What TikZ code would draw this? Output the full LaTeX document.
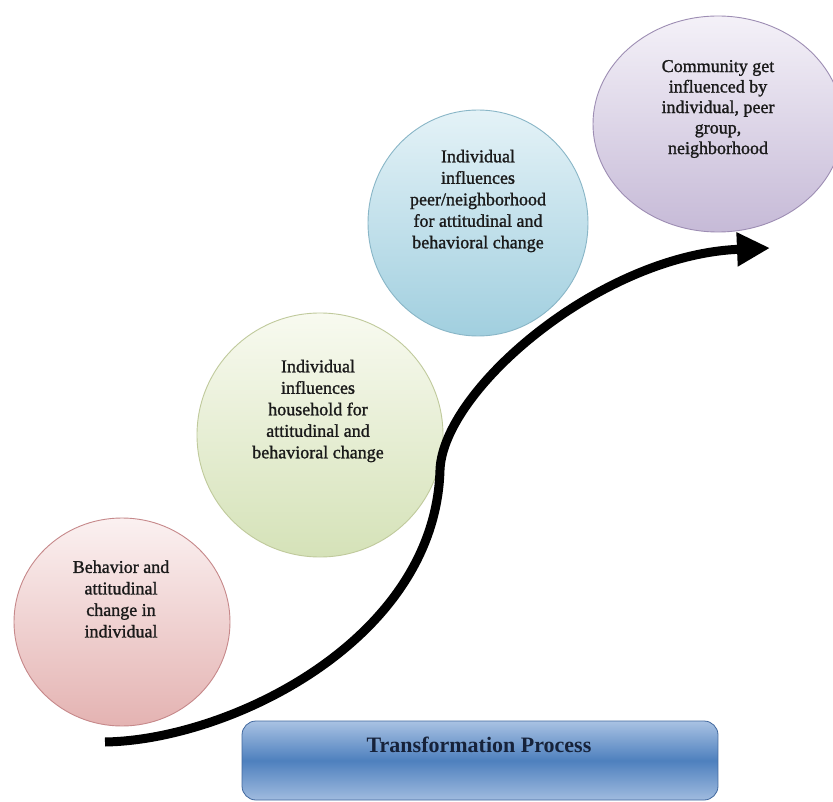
\documentclass[tikz,border=0pt]{standalone}
\usepackage{fontspec}
\setmainfont{Liberation Serif}
\newfontfamily\circfont[FakeBold=1.3]{Liberation Serif}
\usetikzlibrary{shapes.geometric,arrows.meta}
\definecolor{redtop}{HTML}{FBF1F1}
\definecolor{redbot}{HTML}{E4B3B2}
\definecolor{redline}{HTML}{C6888A}
\definecolor{greentop}{HTML}{F8FAF0}
\definecolor{greenbot}{HTML}{D5E2B8}
\definecolor{greenline}{HTML}{C0CA9C}
\definecolor{bluetop}{HTML}{E4F2F7}
\definecolor{bluebot}{HTML}{A1CFDF}
\definecolor{blueline}{HTML}{89B6C7}
\definecolor{purptop}{HTML}{F4F1F8}
\definecolor{purpbot}{HTML}{C6BAD7}
\definecolor{purpline}{HTML}{9D8DB3}
\definecolor{boxtop}{HTML}{A9C2E3}
\definecolor{boxmid}{HTML}{4E80BE}
\definecolor{boxbot}{HTML}{A0BBDF}
\definecolor{boxline}{HTML}{41689E}
\definecolor{txtcol}{HTML}{1A1A1A}
\definecolor{boxtxt}{HTML}{16223A}
\tikzset{
  bubble/.style={ellipse, draw, line width=0.9pt, inner sep=0pt, shading=axis},
  bubtext/.style={align=center, text=txtcol, font=\circfont\fontsize{18}{21.5}\selectfont, inner sep=0pt},
  procbox/.style={draw=boxline, line width=0.8pt, rounded corners=14pt, inner sep=0pt,
    top color=boxtop, bottom color=boxbot, middle color=boxmid},
  proctext/.style={text=boxtxt, font=\bfseries\fontsize{22}{26}\selectfont, inner sep=0pt},
  flow/.style={line width=9pt, -{Triangle[length=33pt,width=32pt]}}
}
\begin{document}
\begin{tikzpicture}[x=1pt,y=-1pt]
\useasboundingbox (0,0) rectangle (833,802);
\clip (0,0) rectangle (833,802);
\fill[white] (0,0) rectangle (833,802);
% bubbles
\node[bubble, draw=redline, top color=redtop, bottom color=redbot,
  minimum width=216pt, minimum height=208pt] (red) at (122,622) {};
\node[bubble, draw=greenline, top color=greentop, bottom color=greenbot,
  minimum width=246pt, minimum height=244pt] (green) at (320,435) {};
\node[bubble, draw=blueline, top color=bluetop, bottom color=bluebot,
  minimum width=220pt, minimum height=226pt] (blue) at (478,223) {};
\node[bubble, draw=purpline, top color=purptop, bottom color=purpbot,
  minimum width=250pt, minimum height=216pt] (purple) at (718,124) {};
% texts
\node[bubtext] (redtxt) at (121,599) {Behavior and\\attitudinal\\change in\\individual};
\node[bubtext] (greentxt) at (318,411) {Individual\\influences\\household for\\attitudinal and\\behavioral change};
\node[bubtext] (bluetxt) at (478,201) {Individual\\influences\\peer/neighborhood\\for attitudinal and\\behavioral change};
\node[bubtext, font=\circfont\fontsize{18}{20.5}\selectfont] (purptxt) at (718,109) {Community get\\influenced by\\individual, peer\\group,\\neighborhood};
% process box
\node[procbox, minimum width=476pt, minimum height=79pt] (proc) at (480,760.5) {};
\node[proctext] (proctxt) at (479,745) {Transformation Process};
% arrow
\coordinate (start) at (105,742);
\coordinate (mid) at (440,470);
\coordinate (tip) at (770,248);
\draw[flow] (start) .. controls (230,740) and (435,640) .. (mid)
  .. controls (443,390) and (600,255) .. (tip);
\end{tikzpicture}
\end{document}
